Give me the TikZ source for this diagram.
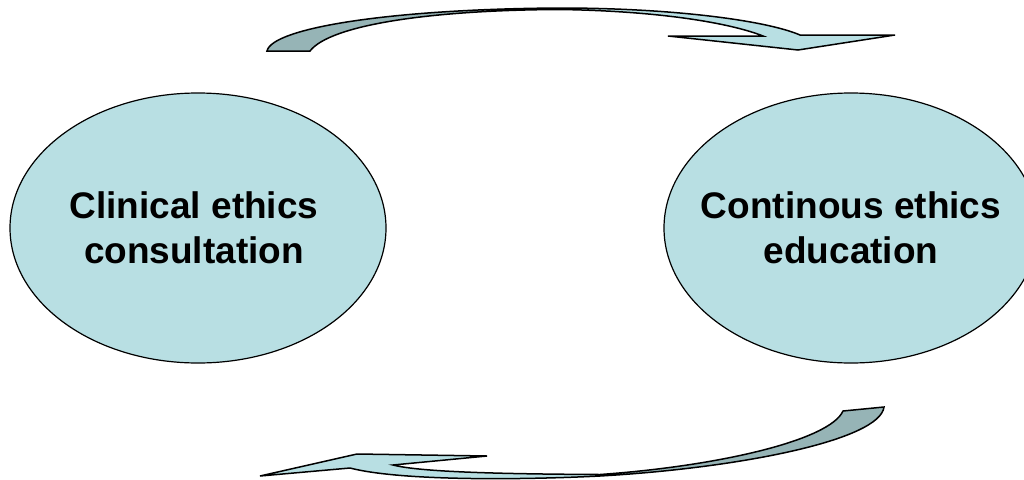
\documentclass[tikz,border=0pt]{standalone}
\usepackage{fontspec}
\setmainfont{Liberation Sans}
\usetikzlibrary{shapes.geometric}
\definecolor{bubble}{HTML}{B8DFE3}
\definecolor{ribbonback}{HTML}{96B4B6}
\tikzset{
  topic/.style = {ellipse, draw = black, line width = 1.2pt, fill = bubble, inner sep = 0pt},
  topictext/.style = {align = center, inner sep = 0pt, font = \bfseries\fontsize{37}{45}\selectfont},
  ribbon/.style = {draw = black, line width = 1.5pt, line join = miter}
}
\def\upperarrow{(267,51) .. controls (272,28) and (390,9) .. (560,8)
  .. controls (670,8) and (765,20) .. (800,35) -- (895,35) -- (798,50) -- (668,36) -- (763,36)
  .. controls (730,23) and (660,11) .. (560,9.5) .. controls (430,10) and (330,25) .. (310,51) -- cycle}
\def\lowerarrow{(884,407) .. controls (880,440) and (740,468) .. (600,476)
  .. controls (520,480) and (400,481) .. (350,468) -- (260,476) -- (357,454) -- (487,456) -- (393,465)
  .. controls (420,472) and (500,474) .. (600,474.5) .. controls (720,466) and (830,440) .. (843,411) -- cycle}
\begin{document}
\begin{tikzpicture}[x = 1pt, y = -1pt]
    \useasboundingbox (0,0) rectangle (1024,479);
    \node [topic, minimum width = 376pt, minimum height = 270pt] (consult) at (198,228) {};
    \node [topictext, xshift = -4pt] (consult-text) at (consult.center) {Clinical ethics\\consultation};
    \node [topic, minimum width = 374pt, minimum height = 270pt] (educ) at (851,228) {};
    \node [topictext] (educ-text) at (educ.center) {Continous ethics\\education};
    % upper arrow
    \fill [bubble] \upperarrow;
    \begin{scope}
      \clip (0,0) rectangle (540,479);
      \fill [ribbonback] \upperarrow;
    \end{scope}
    \draw [ribbon] \upperarrow;
    % lower arrow
    \fill [bubble] \lowerarrow;
    \begin{scope}
      \clip (620,0) rectangle (1024,479);
      \fill [ribbonback] \lowerarrow;
    \end{scope}
    \draw [ribbon] \lowerarrow;
\end{tikzpicture}
\end{document}
